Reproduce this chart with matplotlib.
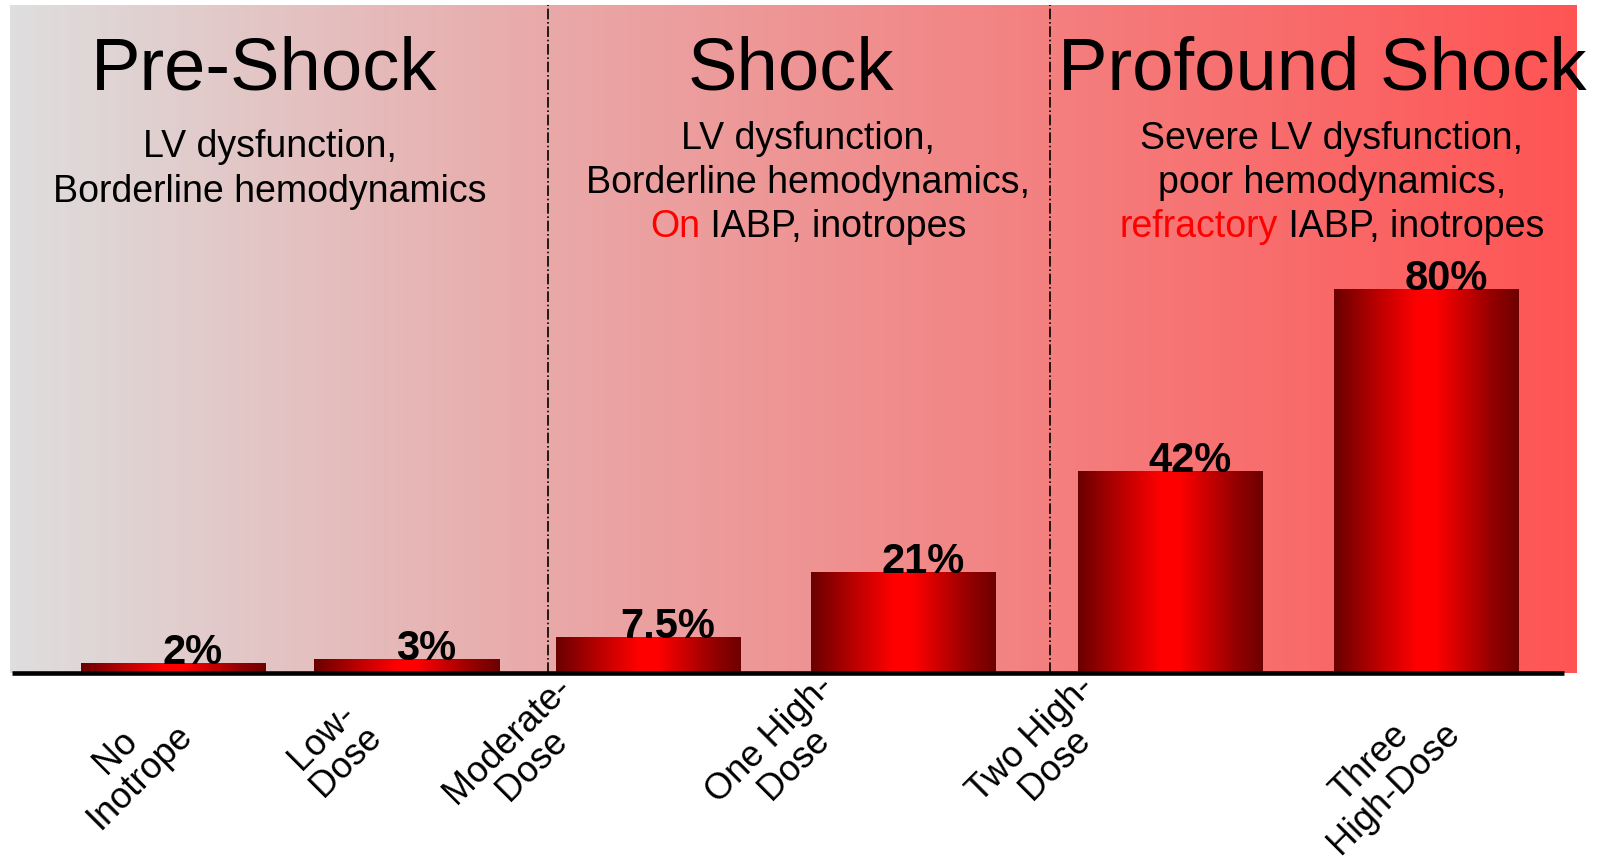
import matplotlib
matplotlib.use("Agg")
import matplotlib.pyplot as plt
import numpy as np
from matplotlib.colors import LinearSegmentedColormap

plt.rcParams['font.family'] = ['Liberation Sans', 'DejaVu Sans']

# mortality by inotrope burden
categories = ["No\nInotrope", "Low-\nDose", "Moderate-\nDose",
              "One High-\nDose", "Two High-\nDose", "Three\nHigh-Dose"]
values = [2, 3, 7.5, 21, 42, 80]
value_labels = ["2%", "3%", "7.5%", "21%", "42%", "80%"]

stages = ["Pre-Shock", "Shock", "Profound Shock"]
stage_notes = [
    [("", "LV dysfunction,"), ("", "Borderline hemodynamics")],
    [("", "LV dysfunction,"), ("", "Borderline hemodynamics,"), ("On", " IABP, inotropes")],
    [("", "Severe LV dysfunction,"), ("", "poor hemodynamics,"), ("refractory", " IABP, inotropes")],
]

# layout (x in axis units, y in percent)
bar_x = [1.64, 3.97, 6.39, 8.94, 11.61, 14.17]
bar_w = 1.85
label_pos = [(1.18, -19.0), (3.24, -15.8), (5.10, -16.6),
             (7.72, -16.4), (10.33, -16.4), (13.72, -21.4)]
dividers = [5.38, 10.40]
stage_x = [2.54, 7.81, 13.12]
note_x = [2.60, 7.98, 13.22]
XMAX, YMAX = 15.67, 139.2

fig = plt.figure(figsize=(15.98, 8.6), dpi=100)
ax = fig.add_axes([10 / 1598, 1 - 673 / 860, 1567 / 1598, 668 / 860])
ax.axis('off')

# background: grey to red, left to right
bg = LinearSegmentedColormap.from_list("bg", ["#dedede", "#e9aaaa", "#f47f7f", "#ff5454"])
ax.imshow(np.linspace(0, 1, 256)[None, :], cmap=bg, aspect='auto',
          extent=[0, XMAX, 0, YMAX], zorder=0)

# bars with a horizontal dark-bright-dark fill
bar_cmap = LinearSegmentedColormap.from_list(
    "bar", [(0, "#6a0000"), (0.25, "#c00000"), (0.45, "#ff0000"),
            (0.55, "#ff0000"), (0.85, "#960000"), (1, "#6e0000")])
grad = np.linspace(0, 1, 256)[None, :]
bars = ax.bar(bar_x, values, width=bar_w, color='none', zorder=2)
for rect in bars:
    x0 = rect.get_x()
    im = ax.imshow(grad, cmap=bar_cmap, aspect='auto',
                   extent=[x0, x0 + rect.get_width(), 0, rect.get_height()], zorder=2)
    im.set_clip_path(rect)

for x, v, lab in zip(bar_x, values, value_labels):
    ax.text(x + 0.19, v - 0.2, lab, ha='center', va='baseline',
            fontsize=30, fontweight='bold', zorder=4)

for d in dividers:
    ax.plot([d, d], [0, YMAX], color='black', ls='-.', lw=1.2, zorder=3)

ax.plot([0.02, 15.54], [0, 0], color='black', lw=3.3, solid_capstyle='butt',
        clip_on=False, zorder=5)

for (x, y), cat in zip(label_pos, categories):
    ax.text(x, y, cat, rotation=45, ha='center', va='center',
            multialignment='center', fontsize=26, linespacing=1.0, clip_on=False)

for x, s in zip(stage_x, stages):
    ax.text(x, 121.5, s, ha='center', va='baseline', fontsize=53.5, clip_on=False)

ax.set_xlim(0, XMAX)
ax.set_ylim(0, YMAX)

# notes under each stage; some lines start with a red word
renderer = fig.canvas.get_renderer()
pre_y = [109.6, 100.2]
other_y = [111.25, 102.1, 92.9]
for i, (x, notes) in enumerate(zip(note_x, stage_notes)):
    ys = pre_y if i == 0 else other_y
    for y, (red, rest) in zip(ys, notes):
        if not red:
            ax.text(x, y, rest, ha='center', va='center', fontsize=27)
            continue
        probe = ax.text(x, y, red + rest, ha='center', va='center', fontsize=27)
        bb = probe.get_window_extent(renderer)
        probe.remove()
        half = bb.width / 2 * 72 / fig.dpi
        ax.annotate(red, (x, y), xytext=(-half, 0), textcoords='offset points',
                    ha='left', va='center', fontsize=27, color='#ff0000')
        ax.annotate(rest, (x, y), xytext=(half, 0), textcoords='offset points',
                    ha='right', va='center', fontsize=27)

fig.savefig("out.png", dpi=100, facecolor='white')
